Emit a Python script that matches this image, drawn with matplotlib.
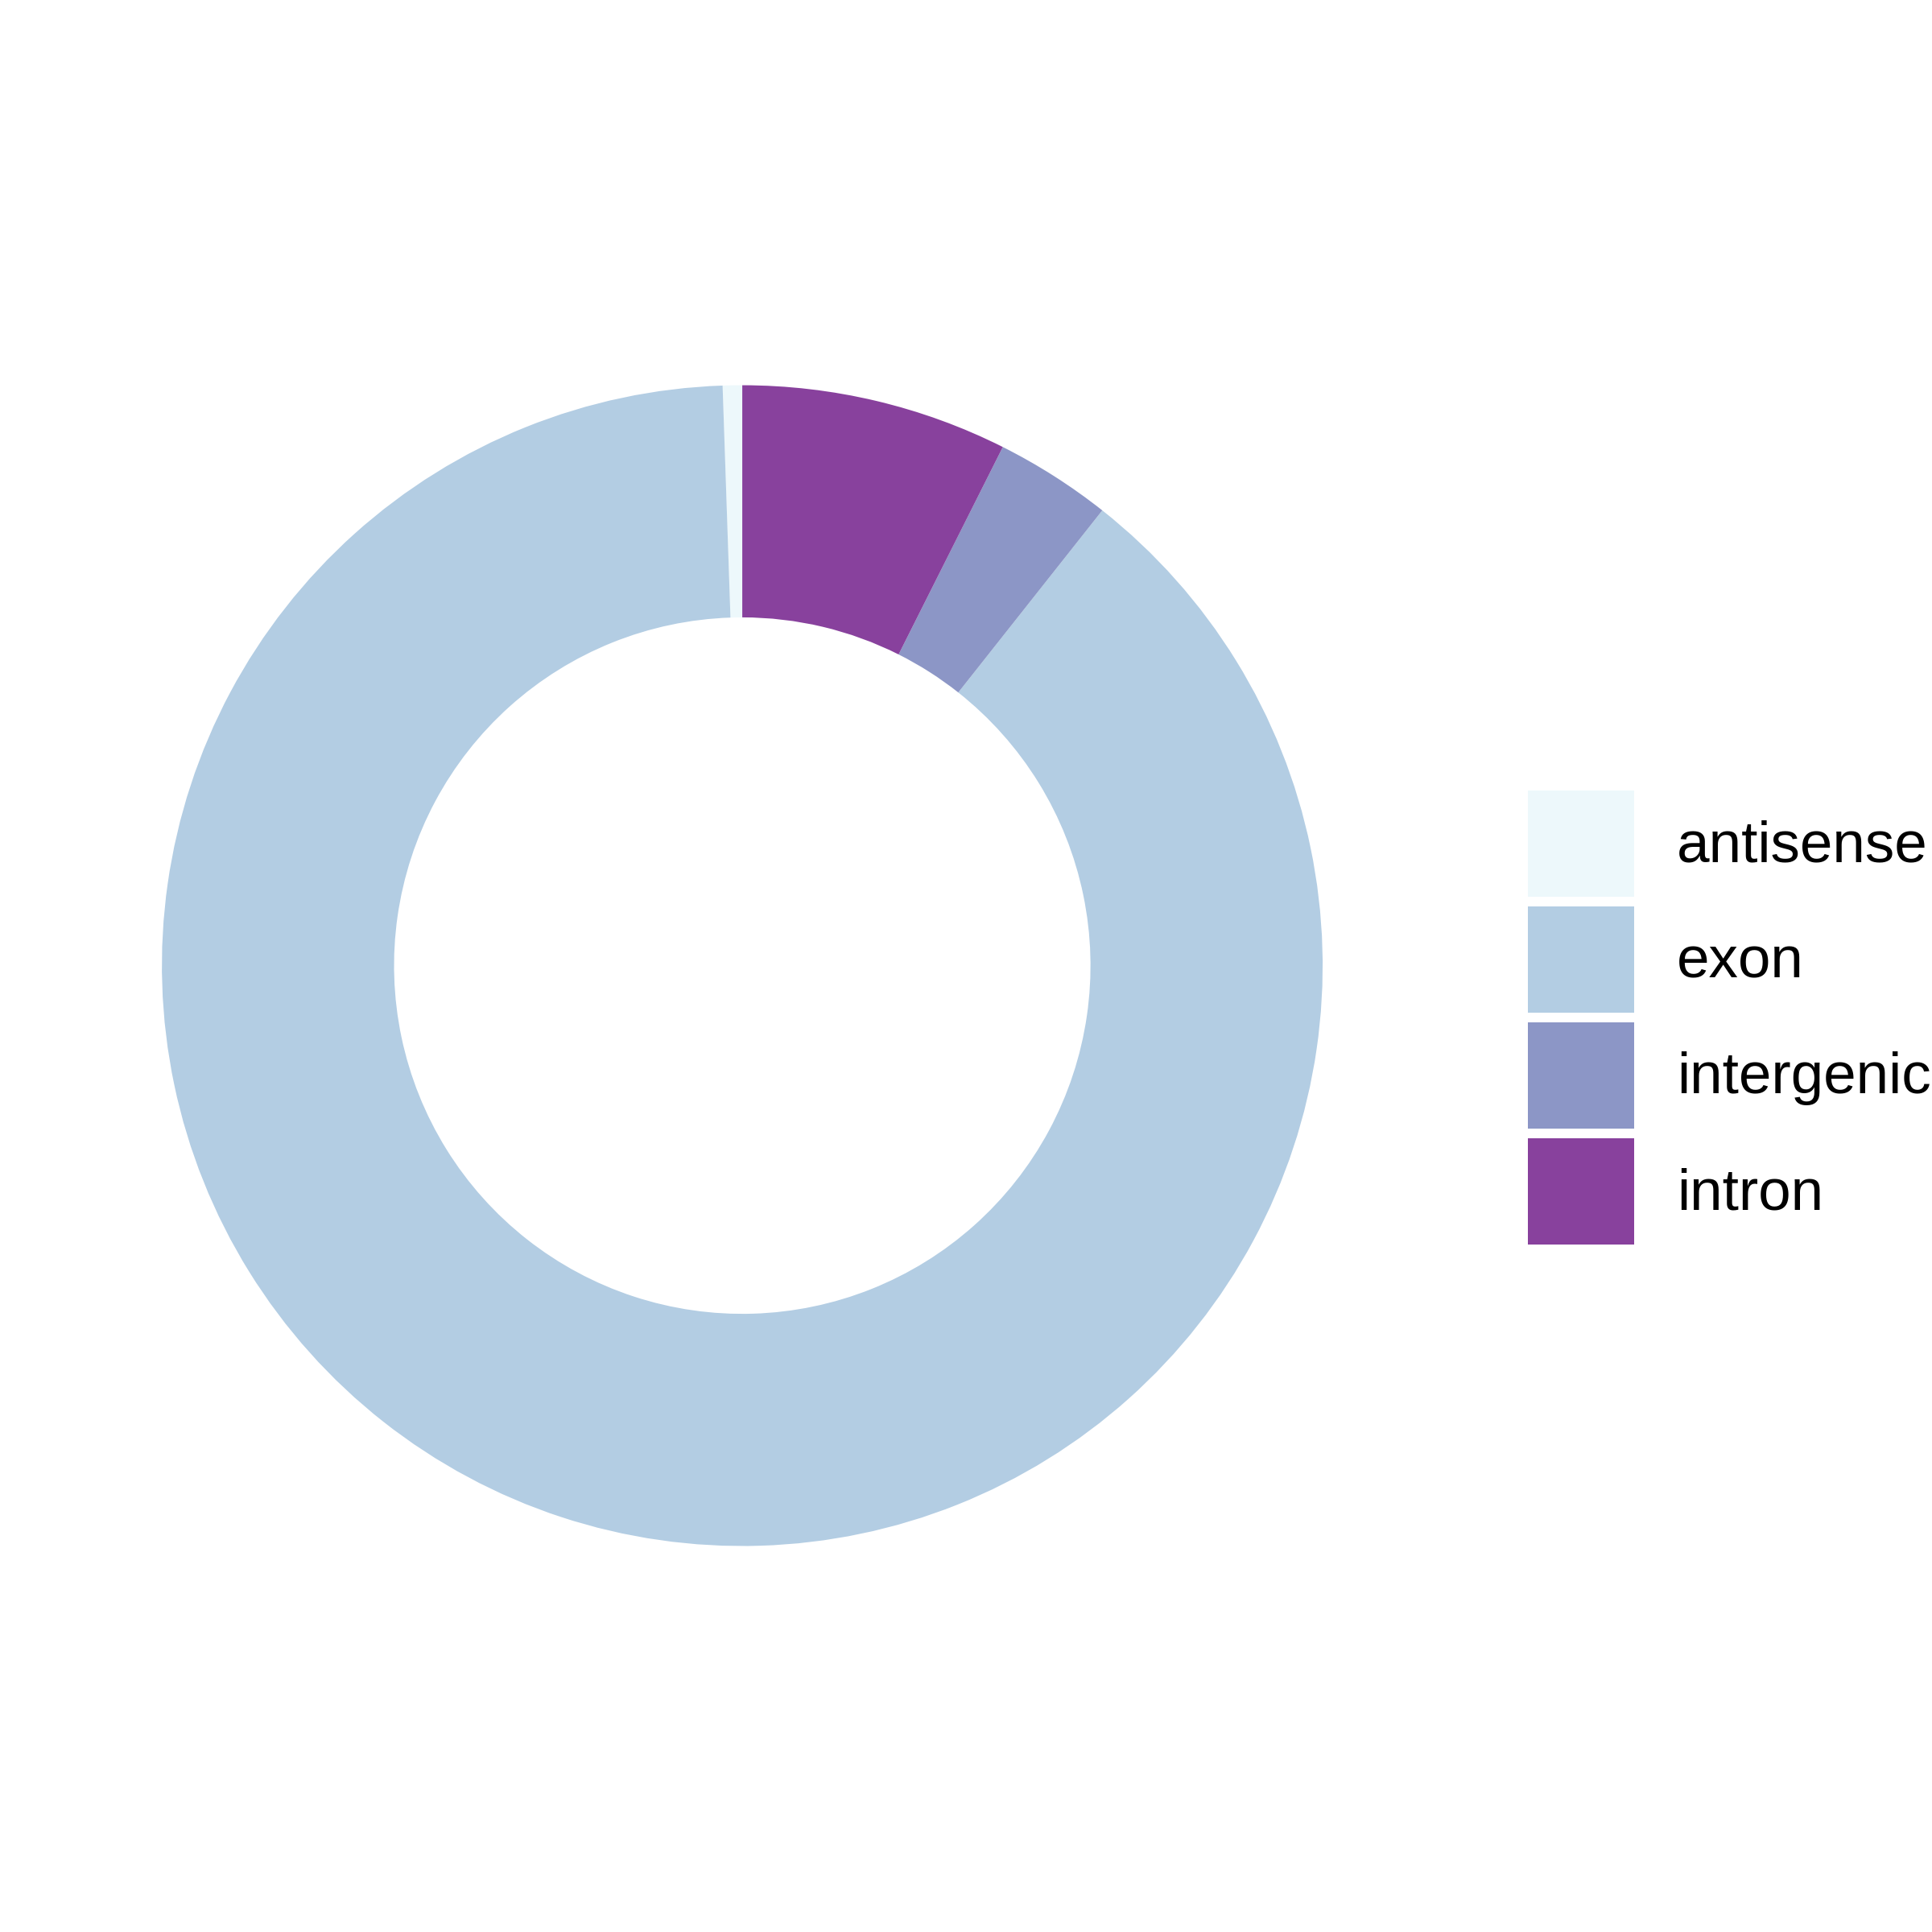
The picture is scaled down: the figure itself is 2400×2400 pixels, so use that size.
import matplotlib
matplotlib.use('Agg')
import matplotlib.pyplot as plt

plt.rcParams['font.family'] = ['Liberation Sans', 'DejaVu Sans']

# share of peaks per genomic feature (percent), legend order
categories = ['antisense', 'exon', 'intergenic', 'intron']
shares = [0.54, 88.81, 3.24, 7.41]
colors = ['#edf8fb', '#b3cde3', '#8c96c6', '#88419d']

fig = plt.figure(figsize=(8, 8), dpi=300)
ax = fig.add_axes([0.0838, 0.1998, 0.6008, 0.6008])

wedges, _ = ax.pie(shares, colors=colors, startangle=90, counterclock=True,
                   radius=1.0, wedgeprops=dict(width=0.4, linewidth=0))
ax.set_xlim(-1, 1)
ax.set_ylim(-1, 1)
ax.set_aspect('equal')
ax.axis('off')

fs = 17.5
fontpx = fs * 300 / 72
key_w, key_h = 132, 132
# legend shrinks the key by 0.35*fs*(h-0.7); solve so the key is key_h px tall
hh = (key_h / fontpx - 0.245) / 0.65
fig.legend(wedges, categories, loc='upper left',
           bbox_to_anchor=(1898 / 2400, 1 - 982 / 2400),
           frameon=False, fontsize=fs, borderpad=0, borderaxespad=0,
           handlelength=key_w / fontpx, handleheight=hh,
           labelspacing=12 / fontpx, handletextpad=53 / fontpx)

fig.savefig('out.png', dpi=300, facecolor='white')
